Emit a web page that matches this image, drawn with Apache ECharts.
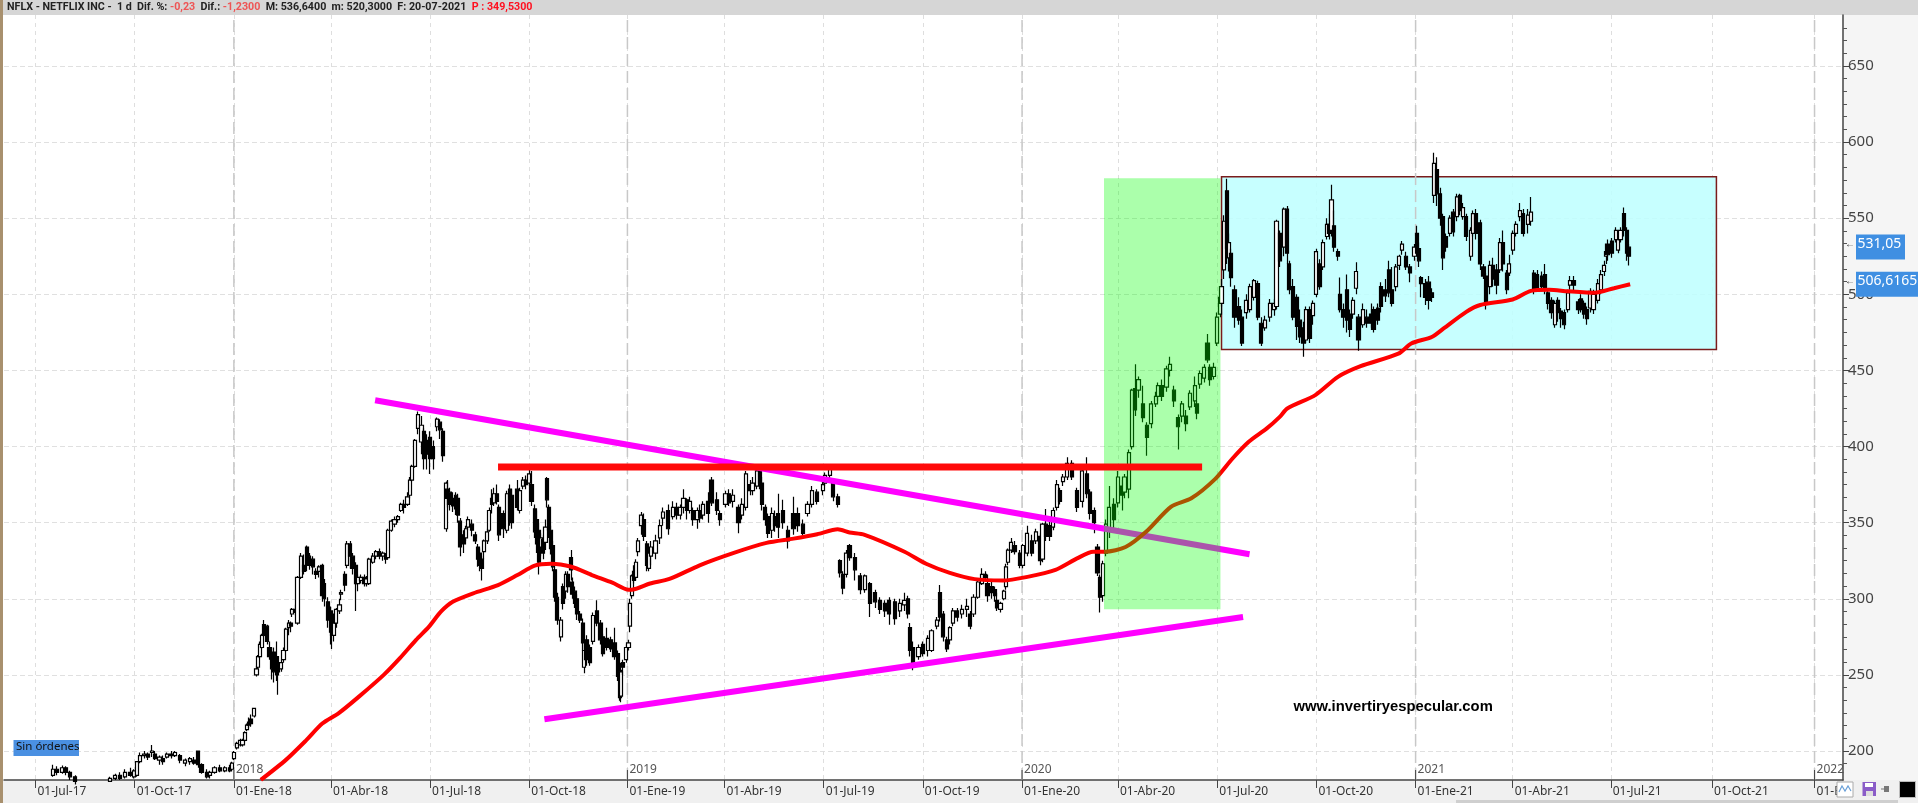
<!DOCTYPE html>
<html><head><meta charset="utf-8">
<style>html,body{margin:0;padding:0;background:#fff}#c{width:1918px;height:803px}</style>
<script src="https://cdn.jsdelivr.net/npm/echarts@6/dist/echarts.min.js"></script>
</head><body><div id="c"></div>
<script>
// Horizontal axis unit: days since 01-Jul-2017
const xExtent = [-29.2, 1676.4];
const yExtent = [180.94, 683.5];
const tickDays = [0,92,184,274,366,458,549,639,731,823,915,1004,1096,1188,1280,1370,1461,1555,1650];
const tickLabels = ['01-Jul-17','01-Oct-17','01-Ene-18','01-Abr-18','01-Jul-18','01-Oct-18','01-Ene-19','01-Abr-19','01-Jul-19','01-Oct-19','01-Ene-20','01-Abr-20','01-Jul-20','01-Oct-20','01-Ene-21','01-Abr-21','01-Jul-21','01-Oct-21','01-Ene-22'];
const yearDays = [184,549,915,1280,1650];
const yearLabels = ['2018','2019','2020','2021','2022'];
const priceTicks = [200,250,300,350,400,450,500,550,600,650];
const priceMinorTicks = [191.7,208.3,216.7,225,233.3,241.7,258.3,266.7,275,283.3,291.7,308.3,316.7,325,333.3,341.7,358.3,366.7,375,383.3,391.7,408.3,416.7,425,433.3,441.7,458.3,466.7,475,483.3,491.7,508.3,516.7,525,533.3,541.7,558.3,566.7,575,583.3,591.7,608.3,616.7,625,633.3,641.7,658.3,666.7,675];

// [day, open, close, low, high]
const candles = [
[16,184,188,183,191],[20,188,186,184,190],[25,186,189,185,190.5],[28,189,186,184,190],[32,186,183,181,187],[37,183,180,178,184],
[69,180,182,180,183],[74,182,184,181,185],[78,184,182,181,186],[83,183,186,182,188],[88,186,184,183,189],[91,183,187,182,188],
[94,184,193,183,193],[97,193,197,192,199],[101,197,198,195,200],[104,198,196,194,199],[108,199,200,196,204],[111,198,195,194,200],[115,194,196,191,197],[118,195,193,191,197],[122,196,198,195,199],[126,198,197,195,200],[129,197,199,196,200],[134,197,194,192,198],[139,192,194,190,195],[143,193,195,191,196],[147,194,192,191,196],[151,200,191,189,200],[154,191,186,185,192],[159,186,183,182,188],[162,184,186,182,187],[166,186,189,185,190],[171,189,187,186,191],[176,187,189,186,190],[180,189,187,186,191],[182,188,192,187,193],[184,195,199,194,200],[187,202,205,201,206],[190,204,207,203,208],[192,204,207,203,208],
[194,207,212,206,213],[196,214,217,213,218],[198,219,217,215,222],[200,221,218,216,224],[203,223,228,222,228],[205,250,254,249,256],[206,255,262,254,263],[208,262,270,261,272],[210,268,276,267,277],[212,283,276,275,286],[215,282,272,270,283],[217,268,262,260,272],[219,262,254,247,268],[221,265,252,245,268],[224,262,250,246,272],[225,258,252,237,262],[228,254,258,252,260],[230,260,266,258,268],[232,266,280,265,281],[235,281,284,276,286],[237,284,282,278,285],
[238,290,293,288,294],[241,293,291,289,296],[243,284,314,283,315],[246,314,328,313,330],[249,322,318,316,329],[252,334,322,318,335],[254,328,322,319,330],[257,326,321,316,328],[260,318,316,313,320],[263,318,321,314,322],[266,322,302,298,323],[268,310,300,295,313],[271,298,286,281,301],[274,292,278,270,295],[275,290,276,267,292],[277,276,284,272,285],[279,284,293,281,294],[282,292,296,290,300],[283,303,304,299,306],[287,316,309,305,318],[289,322,336,320,338],[292,336,328,320,338],[294,328,320,316,330],[297,322,310,292,324],[299,310,314,305,316],[302,312,314,310,316],[305,314,310,308,316],[307,310,313,308,315],[309,310,326,309,327],[313,324,328,323,330],[316,328,331,326,332],[319,331,328,326,333],[322,328,330,325,331],[325,328,326,323,330],[327,327,345,326,346],[330,345,351,344,352],[333,349,352,347,354],[336,352,354,350,355],[339,358,362,357,363],[342,362,360,356,365],[345,362,367,361,370],[347,368,378,366,380],[349,378,387,377,388],[352,387,404,386,405],[355,412,421,408,423],[358,403,414,395,420],[360,410,392,385,412],[363,404,395,385,408],[366,406,392,382,410],[369,400,392,385,404],
[372,413,418,410,419],[375,416,411,405,418],[378,410,394,390,412],[381,346,376,344,377],[382,372,366,360,378],[384,370,362,358,373],[387,366,361,357,370],[390,368,359,355,370],[392,366,355,350,369],[394,351,334,328,353],[397,342,336,330,345],[399,340,346,338,348],[401,347,352,345,354],[405,349,345,341,352],[408,342,338,336,344],[410,334,326,321,336],[412,330,322,318,333],[414,326,320,312,328],[416,331,338,326,339],[419,338,344,336,346],[421,345,358,344,360],[423,366,362,356,372],[425,363,369,361,373],[428,369,364,362,375],[430,360,342,338,362],[434,356,346,340,358],[437,345,369,343,371],[440,372,352,348,375],[442,368,350,346,372],[447,372,360,358,378],[449,358,371,356,373],[452,374,378,372,380],[455,378,375,372,381],[458,376,382,374,385],[460,375,364,361,384],[463,359,344,340,362],[465,352,336,330,358],[467,345,324,316,350],[469,334,340,328,343],[471,339,330,326,342],[473,337,347,332,352],[474,379,365,360,380],[476,360,345,340,362],[478,345,333,329,348],[480,335,321,318,338],[482,319,301,298,321],[484,301,286,283,304],[487,275,286,272,288],[489,308,297,293,310],[492,305,316,300,318],[494,316,308,304,318],[497,327,319,312,332],[498,311,303,300,314],[500,305,297,294,308],[502,300,290,286,303],[505,290,286,284,292],[508,284,271,266,287],[509,255,266,251,270],[511,273,260,256,276],[514,268,258,256,270],[517,272,289,270,291],[521,292,284,282,299],[524,284,273,270,286],[526,275,264,262,277],[530,274,268,266,281],[534,273,267,265,275],[537,271,262,260,281],[540,264,249,246,266],[542,253,235,233,256],[543,236,252,232,258],[545,258,255,250,260],[548,260,268,258,270],[550,268,271,266,273],[551,282,297,278,300],[553,302,315,300,316],[555,318,312,310,322],[557,314,324,312,326],[559,331,338,328,340],[562,348,355,342,357],[564,352,341,338,356],[567,336,322,318,338],[569,320,330,318,332],
[571,328,334,322,338],[575,330,338,326,342],[579,340,348,336,352],[582,353,357,348,360],[587,358,346,342,362],[591,354,360,352,364],[595,360,355,352,363],[598,355,360,352,362],[601,360,366,356,372],[604,365,358,352,366],[607,358,364,356,367],[610,358,352,348,360],[614,352,358,346,360],[616,358,353,350,362],[619,355,362,352,364],[624,364,356,350,370],[627,378,363,361,380],[632,365,358,355,370],[635,356,352,348,358],[640,362,369,360,371],[643,369,363,361,372],[647,364,368,360,372],[652,360,350,343,362],[655,355,362,352,366],[659,360,382,358,384],[663,375,371,368,378],[665,371,376,368,380],[669,374,384,372,386],[672,384,376,372,386],[674,376,362,358,380],[677,360,352,348,362],[679,354,343,340,356],[683,345,356,340,360],[686,354,348,344,358],[689,356,347,340,369],[693,358,350,346,365],[698,345,338,333,348],[703,356,346,342,367],[707,356,348,344,360],[712,349,343,340,352],[716,356,362,354,364],[720,362,371,360,374],[725,370,364,362,372],[730,371,375,368,377],[732,376,381,374,383],[737,381,385,378,387],[740,376,367,364,378],[744,367,362,360,369],
[746,325,317,314,326],[749,316,307,303,318],[752,316,330,314,332],[755,335,327,325,336],[760,327,319,312,330],[765,315,306,303,317],[769,306,315,304,316],[774,310,297,288,311],[779,304,298,294,306],[783,299,293,290,301],[788,297,292,288,299],[792,299,290,283,301],[797,298,287,283,300],[802,292,297,288,300],[806,296,299,292,304],[809,300,290,287,302],[811,281,266,262,284],[814,268,255,253,272],[819,262,268,260,270],[823,270,264,262,272],[828,266,274,262,276],[831,266,279,265,280],[836,282,286,280,288],[839,304,288,285,309],[842,290,275,272,292],[845,273,267,265,275],[848,273,281,270,282],[851,284,292,282,294],[855,292,288,285,294],[859,290,293,287,296],[864,293,295,288,300],[867,290,282,280,292],[870,290,301,288,303],[874,301,311,300,312],[878,310,316,309,320],[881,316,314,312,318],[883,310,302,298,316],[887,308,304,300,312],[890,306,302,298,308],[892,299,294,292,304],[895,293,297,291,298],[898,300,305,299,306],
[900,308,321,306,323],[902,324,332,322,333],[905,332,337,330,340],[908,335,331,329,338],[913,330,322,320,332],[916,322,335,320,336],[920,330,343,328,348],[924,338,330,328,342],[928,338,344,336,346],[932,341,325,322,343],[934,326,349,324,350],[937,349,341,338,359],[941,348,341,338,352],[944,347,358,345,360],[947,360,375,358,378],[950,371,364,362,373],[953,377,380,374,382],[957,380,389,378,393],[961,389,380,378,391],[966,371,360,357,373],[971,364,384,360,386],[975,382,369,366,393],[978,370,356,352,372],[982,358,350,343,360],[985,334,317,315,336],[987,314,301,291,316],[990,302,323,298,325],[993,330,349,328,352],[996,346,360,340,374],[1000,362,352,345,366],[1004,363,380,360,384],[1008,374,368,358,378],[1010,370,380,366,382],[1014,372,396,366,398],[1017,400,437,398,438],[1020,438,424,420,454],[1023,437,444,432,446],[1027,428,419,416,440],[1031,414,406,394,416],[1035,415,428,412,430],[1039,428,433,426,436],[1041,433,440,430,442],[1045,440,433,430,444],[1049,439,451,436,453],[1052,450,454,446,459],[1056,437,430,426,440],[1060,419,413,398,421],[1063,420,428,416,430],[1067,420,415,410,424],[1071,426,435,424,437],[1075,430,440,426,446],[1077,428,422,418,430],[1080,441,448,438,450],[1084,445,452,442,454],[1087,468,457,455,474],[1089,452,444,440,454],[1093,446,452,444,455],[1096,468,485,466,488],[1099,487,498,485,500],
[1100,494,505,492,510],[1102,516,548,510,552],[1105,568,530,520,576],[1107,524,534,515,540],[1109,527,511,505,530],[1112,503,485,478,506],[1116,492,483,480,498],[1119,485,468,466,490],[1123,488,496,484,500],[1126,490,505,488,507],[1130,498,509,496,510],[1134,507,485,483,509],[1137,481,468,466,485],[1140,478,483,476,486],[1145,485,494,482,497],[1149,490,494,486,497],[1151,492,548,490,549],[1154,540,522,518,542],[1158,531,556,525,557],[1161,556,527,520,558],[1163,520,503,500,522],[1166,505,485,483,510],[1170,498,479,470,500],[1173,483,472,468,490],[1176,478,468,459,482],[1178,470,490,468,492],[1182,490,471,468,492],[1185,486,494,480,496],[1188,500,528,498,530],[1191,520,505,503,523],[1194,518,534,516,536],[1198,538,546,536,550],[1200,546,540,536,553],[1202,542,562,538,572],[1204,545,531,528,555],[1208,528,525,522,530],
[1210,500,490,488,511],[1213,490,485,478,494],[1216,503,483,475,513],[1219,487,477,472,490],[1222,487,496,484,498],[1225,504,515,500,521],[1227,485,470,463,487],[1231,480,490,478,494],[1235,485,481,478,490],[1239,487,481,478,494],[1241,490,477,475,492],[1245,491,483,480,494],[1248,505,492,488,508],[1252,503,499,495,510],[1255,516,501,498,522],[1258,503,494,492,518],[1262,505,518,502,520],[1265,519,525,516,526],[1267,529,533,526,535],[1271,525,518,516,528],[1275,518,514,508,520],[1279,525,531,522,533],[1281,540,527,525,545],[1283,530,522,518,534],[1285,511,507,498,512],[1289,507,498,493,510],[1292,508,496,490,512],[1295,501,498,495,504],
[1297,565,586,560,593],[1300,582,566,558,590],[1303,566,550,545,570],[1305,551,524,516,553],[1308,538,531,528,540],[1312,540,550,538,552],[1315,554,541,538,556],[1318,551,564,548,566],[1321,565,555,552,566],[1324,551,557,549,560],[1327,551,538,535,553],[1331,525,542,522,544],[1333,540,553,538,555],[1336,553,540,536,556],[1340,547,520,516,549],[1343,518,512,510,520],[1345,512,494,490,514],[1349,505,519,500,522],[1352,519,510,505,524],[1355,516,506,500,520],[1358,516,534,514,537],[1361,534,520,515,542],[1365,514,503,500,516],[1367,514,520,512,526],[1370,529,540,526,542],[1373,540,546,538,548],[1377,551,555,548,560],[1380,553,540,538,556],[1384,546,552,540,556],[1387,548,554,545,564],
[1390,514,503,500,516],[1393,513,504,502,516],[1397,512,505,502,515],[1400,513,503,500,520],[1403,501,494,490,503],[1406,496,488,484,498],[1409,480,494,478,496],[1412,496,488,482,498],[1415,489,484,478,491],[1418,488,480,477,490],[1421,490,501,488,503],[1423,506,509,503,512],[1427,509,506,502,512],[1431,495,490,487,497],[1433,497,490,488,500],[1436,494,487,484,496],[1439,490,484,480,492],[1442,491,502,488,504],[1445,490,500,487,503],[1449,496,507,494,510],[1452,503,513,500,516],[1455,515,519,512,522],[1457,525,528,520,530],[1458,533,526,522,536],[1462,535,527,524,537],[1466,536,542,534,544],[1468,529,536,527,538],[1470,536,542,534,544],[1473,553,542,538,557],[1476,542,527,522,544],[1478,531,525,519,533]
];

const maDays = [209,232,251,266,281,300,323,338,353,365,376,387,406,429,447,463,478,497,516,535,550,553,570,588,616,647,678,703,725,744,755,769,806,826,848,871,897,920,946,966,981,992,1011,1030,1053,1072,1094,1110,1125,1142,1154,1161,1187,1208,1229,1264,1276,1295,1306,1327,1340,1370,1387,1404,1421,1446,1464,1479];
const maValues = [181,194,207,218,224.7,235.7,250,261,273,281.7,291.5,298,303.6,309,315.6,321.8,323,321,315.6,310.6,306,306,310,313,322,330,336.7,339.5,342.4,345.6,343.5,342,330.9,323,317,312.9,312,314.4,319,326.5,330.9,330.9,334,344,360.4,366,378.6,392,403,411.9,419.5,425,433.8,445.8,452.8,461,467.7,472,477.6,488.5,493,496.6,502.3,503,502,501,504,506.6165];

const upperTrend = [[315,430.4],[1126,329.2]];
const lowerTrend = [[472,220.9],[1120,288]];
const resistance = [[429,386.5],[1082,386.5]];
// [dayStart, dayEnd, priceLow, priceHigh]
const rangeBox = [[1100,1559,463.8,577.2]];
const rallyBox = [[991,1099,293.1,576.2]];

const lastPrice = 531.05, lastAverage = 506.6165;
const titleParts = ['NFLX - NETFLIX INC -  1 d  Dif. %: ','-0,23','  Dif.: ','-1,2300','  M: 536,6400  m: 520,3000  F: 20-07-2021  ','P : 349,5300'];

const FONT = '"Noto Sans","Open Sans",sans-serif';
const TITLE_FONT = 'Roboto,"Noto Sans",sans-serif';
const tickLabelOf = {};
tickDays.forEach((d,i)=>tickLabelOf[d]=tickLabels[i]);

function boxRenderer(fill, stroke){
  return function(params, api){
    const a = api.coord([api.value(0), api.value(3)]);
    const b = api.coord([api.value(1), api.value(2)]);
    return {type:'rect', shape:{x:a[0],y:a[1],width:b[0]-a[0],height:b[1]-a[1]},
      style:{fill:fill, stroke:stroke||'none', lineWidth:stroke?1.5:0}};
  };
}
function lineSeries(name, points, color, width, z, smooth){
  return {name, type:'line', data:points, showSymbol:false, symbol:'none', z, smooth:smooth||false,
    lineStyle:{color, width, cap:'butt'}, silent:true, animation:false};
}

const chart = echarts.init(document.getElementById('c'), null, {renderer:'canvas'});
const option = {
  animation:false,
  backgroundColor:'#fff',
  title:{left:7,top:0,
    text:`{k|${titleParts[0]}}{s|${titleParts[1]}}{k|${titleParts[2]}}{s|${titleParts[3]}}{k|${titleParts[4]}}{r|${titleParts[5]}}`,
    textStyle:{rich:{
      k:{fontFamily:TITLE_FONT,fontSize:10.7,color:'#222',lineHeight:15,height:15},
      s:{fontFamily:TITLE_FONT,fontSize:10.7,color:'#ee5555',lineHeight:15,height:15},
      r:{fontFamily:TITLE_FONT,fontSize:10.7,color:'#ff1020',lineHeight:15,height:15}}},
    padding:0},
  grid:{left:4,right:75,top:15,height:765,containLabel:false},
  xAxis:{type:'value',min:xExtent[0],max:xExtent[1],
    axisLine:{onZero:false,lineStyle:{color:'#444',width:1.5}},
    axisTick:{show:true,length:8,lineStyle:{color:'#444'},customValues:tickDays},
    axisLabel:{customValues:tickDays,align:'left',margin:6,fontFamily:FONT,fontSize:12,color:'#333',padding:[0,0,0,2],
      showMinLabel:true,showMaxLabel:true,hideOverlap:false,
      formatter:v=>tickLabelOf[v]||''},
    splitLine:{show:true,lineStyle:{color:'#dedede',type:[4,4],width:1}}},
  yAxis:[
    {type:'value',position:'right',min:yExtent[0],max:yExtent[1],
     axisLine:{show:true,onZero:false,lineStyle:{color:'#444',width:1.5}},
     axisTick:{show:true,length:6,lineStyle:{color:'#444'},customValues:priceTicks},
     axisLabel:{customValues:priceTicks,margin:5,fontFamily:FONT,fontSize:15,color:'#444'},
     splitLine:{show:true,lineStyle:{color:'#e0e0e0',type:[5,3],width:1}}},
    {type:'value',position:'right',min:yExtent[0],max:yExtent[1],
     axisLine:{show:false,onZero:false},axisLabel:{show:false},splitLine:{show:false},
     axisTick:{show:true,length:4,lineStyle:{color:'#555'},customValues:priceMinorTicks}}
  ],
  graphic:[
    {id:'bandTop',type:'rect',z:-1,shape:{x:0,y:0,width:1918,height:15},style:{fill:'#d6d6d6'}},
    {id:'bandLeft',type:'rect',z:-1,shape:{x:0,y:0,width:3,height:803},style:{fill:'#a8906e'}},
    {id:'bandRight',type:'rect',z:-1,shape:{x:1843,y:15,width:75,height:788},style:{fill:'#f5f5f5'}},
    {id:'bandBottom',type:'rect',z:-1,shape:{x:3,y:780,width:1915,height:23},style:{fill:'#f0f0f0'}},
    {id:'bandCover',type:'rect',z:50,shape:{x:1837,y:781,width:81,height:22},style:{fill:'#f0f0f0'}},
    {id:'scroll',type:'rect',z:51,shape:{x:1456,y:800,width:442,height:3},style:{fill:'#cfcfcf'}},
    {id:'orders',type:'rect',z:60,shape:{x:13.5,y:740,width:65.5,height:16},style:{fill:'#4a90e2'}},
    {id:'ordersT',type:'text',z:61,x:16,y:741,style:{text:'Sin órdenes',fontFamily:FONT,fontSize:11.5,fill:'#111'}},
    {id:'wm',type:'text',z:61,x:1293.5,y:699,style:{text:'www.invertiryespecular.com',fontFamily:'"Liberation Sans",Arial,sans-serif',fontWeight:'bold',fontSize:14.8,fill:'#000'}},
    {id:'ib1',type:'rect',z:60,shape:{x:1837,y:782,width:16,height:15},style:{fill:'#fff',stroke:'#aaa',lineWidth:1}},
    {id:'ib1p',type:'polyline',z:61,shape:{points:[[1839,792],[1842,786],[1845,791],[1848,786],[1851,791]]},style:{stroke:'#6aa0d8',lineWidth:1.2,fill:'none'}},
    {id:'ib2',type:'rect',z:60,shape:{x:1862.5,y:782,width:13.5,height:14},style:{fill:'#8a5cc8'}},
    {id:'ib2a',type:'rect',z:61,shape:{x:1865,y:783,width:8,height:4},style:{fill:'#fff'}},
    {id:'ib2b',type:'rect',z:61,shape:{x:1866,y:791,width:7,height:5},style:{fill:'#ddd'}},
    {id:'ib3',type:'rect',z:61,shape:{x:1884,y:786,width:5,height:6},style:{fill:'#777'}},
    {id:'ib3a',type:'rect',z:61,shape:{x:1881,y:788.5,width:3,height:1},style:{fill:'#777'}},
    {id:'ib4',type:'rect',z:60,shape:{x:1899.5,y:781.5,width:16,height:16},style:{fill:'#000',stroke:'#bbb',lineWidth:1}}
  ],
  series:[
    {name:'rango',type:'custom',z:1,silent:true,clip:true,data:rangeBox,encode:{x:[0,1],y:[2,3]},renderItem:boxRenderer('rgba(190,255,255,0.86)','#7a1c1c')},
    {name:'years',type:'custom',z:1.5,silent:true,clip:false,data:yearDays.map((d,i)=>[d,yExtent[0],yExtent[1]]),encode:{x:0,y:[1,2]},
      renderItem(params,api){
        const bottom=api.coord([api.value(0),api.value(1)]), top=api.coord([api.value(0),api.value(2)]);
        return {type:'group',children:[
          {type:'line',shape:{x1:bottom[0],y1:bottom[1],x2:top[0],y2:top[1]},style:{stroke:'#c8c8c8',lineWidth:1.5,lineDash:[12,5]}},
          {type:'line',shape:{x1:bottom[0],y1:bottom[1],x2:bottom[0],y2:bottom[1]-10},style:{stroke:'#444',lineWidth:1}},
          {type:'text',x:bottom[0]+2,y:bottom[1]-16,style:{text:yearLabels[params.dataIndex],fontFamily:FONT,fontSize:12,fill:'#555'}}
        ]};
      }},
    {name:'NFLX',type:'candlestick',z:2,silent:true,barWidth:3.6,clip:true,
      data:candles,encode:{x:0,y:[1,2,3,4]},
      itemStyle:{color:'#fff',color0:'#000',borderColor:'#000',borderColor0:'#000',borderWidth:1.2}},
    lineSeries('techo',upperTrend,'#ff00ff',6,3),
    lineSeries('suelo',lowerTrend,'#ff00ff',6,3),
    lineSeries('media',maDays.map((d,i)=>[d,maValues[i]]),'#ff0000',4,4,0.25),
    {name:'subida',type:'custom',z:10,silent:true,clip:true,data:rallyBox,encode:{x:[0,1],y:[2,3]},renderItem:boxRenderer('rgba(0,255,0,0.33)')},
    lineSeries('resistencia',resistance,'#ff0a0a',7,11)
  ]
};
chart.setOption(option);

function priceTag(id,value,text,width){
  const y = chart.convertToPixel({yAxisIndex:0},value);
  return [
    {id:id+'a',type:'text',z:70,x:1845,y:y-8,style:{text:'←',fontFamily:FONT,fontSize:10,fill:'#333'}},
    {id:id+'b',type:'rect',z:70,shape:{x:1856,y:y-12.5,width,height:25},style:{fill:'#3f8fe2'}},
    {id:id+'c',type:'text',z:71,x:1857.5,y:y-10,style:{text,fontFamily:FONT,fontSize:14,fill:'#fff'}}
  ];
}
chart.setOption({graphic:[...priceTag('p1',lastPrice,'531,05',49),...priceTag('p2',lastAverage,'506,6165',62)]});
</script></body></html>
